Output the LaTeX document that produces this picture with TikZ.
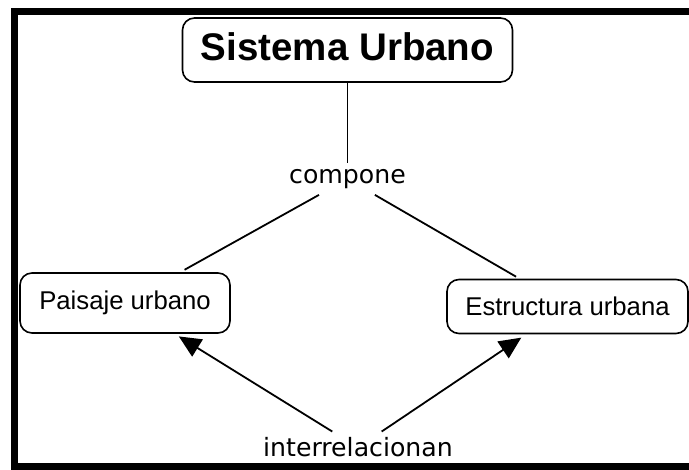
\documentclass[tikz,border=0pt]{standalone}
\usepackage{fontspec}
\setmainfont{Liberation Sans}
\newfontfamily\linkfont{DejaVu Sans}
\usetikzlibrary{arrows.meta}
\begin{document}
\begin{tikzpicture}[x=1pt, y=-1pt,
  concept/.style={draw, rounded corners=12pt, line width=1.6pt, inner sep=0pt, font=\fontsize{25.7}{30}\selectfont},
  linkword/.style={inner sep=6pt, font=\linkfont\fontsize{25.2}{30}\selectfont},
  conn/.style={line width=1.8pt},
  tip/.style={-{Triangle[length=22pt,width=20pt]}}]
\useasboundingbox (0,0) rectangle (689,470);
\draw[line width=7pt] (689,11.5) -- (14.5,11.5) -- (14.5,466.5) -- (689,466.5);
\node[concept, minimum width=330pt, minimum height=64pt, text depth=6pt, font=\bfseries\fontsize{38.5}{44}\selectfont] (con0) at (347.5,50){Sistema Urbano};
\node[linkword] (lnk0) at (347.5,179){compone};
\node[concept, minimum width=210pt, minimum height=60pt] (con1) at (125,303){Paisaje urbano};
\node[concept, minimum width=241pt, minimum height=54pt] (con2) at (567.5,306.5){Estructura urbana};
\node[linkword] (lnk1) at (358,447.5){interrelacionan};
\draw[conn](con0) -- (lnk0);
\draw[conn, shorten >=5pt](lnk0) -- (con1);
\draw[conn, shorten >=4pt](lnk0) -- (con2);
\draw[conn, tip, shorten >=5pt](lnk1) -- (con1);
\draw[conn, tip, shorten >=6pt](lnk1) -- (con2);
\end{tikzpicture}
\end{document}
